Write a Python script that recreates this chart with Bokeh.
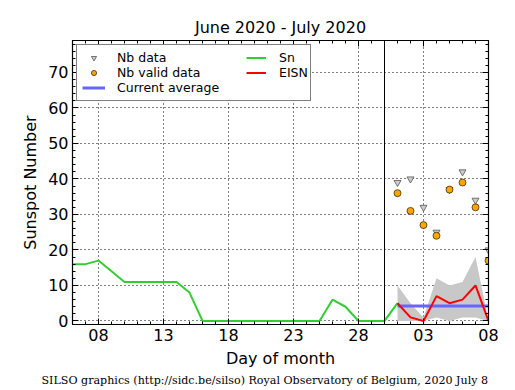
from bokeh.plotting import figure
from bokeh.models import (Range1d, FixedTicker, LinearAxis, Span, Legend,
                          LegendItem, Title)
from bokeh.embed import file_html
from bokeh.resources import INLINE

# ---- data (day numbers: June = 1..30, July 1 = 31) ----
sn_days = [6, 7, 8, 9, 10, 11, 12, 13, 14, 15, 16, 17, 18, 19, 20, 21, 22,
           23, 24, 25, 26, 27, 28, 29, 30, 31]
sn_vals = [16, 16, 17, 14, 11, 11, 11, 11, 11, 8, 0, 0, 0, 0, 0, 0, 0,
           0, 0, 0, 6, 4, 0, 0, 0, 5]

eisn_days = [31, 32, 33, 34, 35, 36, 37, 38]
eisn_vals = [5, 1, 0, 7, 5, 6, 10, 0]
eisn_low = [0, 0, 0, 1, 0, 1, 1, 0]
eisn_high = [10, 5, 1, 12, 10, 11, 18, 0]

nb_data = [39, 40, 32, 25, 37, 42, 34, 20]
nb_valid = [36, 31, 27, 24, 37, 39, 32, 17]

current_average = 4.2
month_boundary = 30

x_tick_pos = [8, 13, 18, 23, 28, 33, 38]
x_tick_labels = ["08", "13", "18", "23", "28", "03", "08"]
y_tick_pos = [0, 10, 20, 30, 40, 50, 60, 70]

FONT = "DejaVu Sans"

p = figure(frame_width=416, frame_height=284,
           x_range=Range1d(6, 38), y_range=Range1d(-1, 79),
           output_backend="svg", toolbar_location=None,
           min_border_left=72, min_border_right=27,
           min_border_top=40, min_border_bottom=66,
           background_fill_color="white", border_fill_color="white")

p.outline_line_color = "black"
p.outline_line_width = 1.2

xticker = FixedTicker(ticks=x_tick_pos, minor_ticks=list(range(6, 39)))
yticker = FixedTicker(ticks=y_tick_pos, minor_ticks=list(range(0, 80, 2)))


def style_axis(ax, labels=True):
    ax.axis_line_color = "black"
    ax.major_tick_in = 6
    ax.major_tick_out = 0
    ax.minor_tick_in = 3
    ax.minor_tick_out = 0
    ax.major_tick_line_color = "black"
    ax.minor_tick_line_color = "black"
    ax.major_label_text_font = FONT
    if labels:
        ax.major_label_text_font_size = "16px"
        ax.major_label_text_color = "black"
        ax.major_label_standoff = 4
    else:
        ax.major_label_text_font_size = "1px"
        ax.major_label_text_color = None
        ax.major_label_standoff = 0
    ax.axis_label_text_font = FONT
    ax.axis_label_text_font_size = "16px"
    ax.axis_label_text_font_style = "normal"
    ax.axis_label_text_color = "black"


p.xaxis.ticker = xticker
p.yaxis.ticker = yticker
p.xaxis.major_label_overrides = {pos: lab for pos, lab in zip(x_tick_pos, x_tick_labels)}
p.xaxis.axis_label = "Day of month"
p.yaxis.axis_label = "Sunspot Number"
style_axis(p.xaxis[0])
style_axis(p.yaxis[0])

top_ax = LinearAxis(ticker=xticker)
right_ax = LinearAxis(ticker=yticker)
style_axis(top_ax, labels=False)
style_axis(right_ax, labels=False)
p.add_layout(top_ax, "above")
p.add_layout(right_ax, "right")

p.xgrid.ticker = FixedTicker(ticks=x_tick_pos)
p.ygrid.ticker = FixedTicker(ticks=y_tick_pos)
for g in (p.xgrid[0], p.ygrid[0]):
    g.grid_line_color = "black"
    g.grid_line_dash = "1 3"
    g.grid_line_width = 1

# title
p.title.text = "June 2020 - July 2020"
p.title.align = "center"
p.title.standoff = 8
p.title.text_font = FONT
p.title.text_font_size = "16px"
p.title.text_font_style = "normal"
p.title.text_color = "black"

# glyphs
p.varea(x=eisn_days, y1=eisn_low, y2=eisn_high, fill_color="#c8c8c8")
r_avg = p.line([eisn_days[0], eisn_days[-1]], [current_average, current_average],
               line_color="#6666ff", line_width=3)
r_sn = p.line(sn_days, sn_vals, line_color="#33cc33", line_width=2)
r_eisn = p.line(eisn_days, eisn_vals, line_color="red", line_width=2)
p.add_layout(Span(location=month_boundary, dimension="height",
                  line_color="black", line_width=1))
r_nb = p.scatter(eisn_days, nb_data, marker="inverted_triangle", size=7,
                 fill_color="#cccccc", line_color="#555555", line_width=0.8)
r_valid = p.scatter(eisn_days, nb_valid, marker="circle", size=7,
                    fill_color="orange", line_color="black", line_width=0.6)

common = dict(padding=5, spacing=0, label_height=13, glyph_height=13,
              label_text_font=FONT, label_text_font_size="12.5px",
              label_text_color="black")

leg1 = Legend(items=[LegendItem(label="Nb data", renderers=[r_nb]),
                     LegendItem(label="Nb valid data", renderers=[r_valid]),
                     LegendItem(label="Current average", renderers=[r_avg])],
              location="top_left", margin=4, label_width=188,
              glyph_width=23, label_standoff=12,
              border_line_color="black", border_line_width=1.2,
              background_fill_color="white", background_fill_alpha=1,
              **common)
leg2 = Legend(items=[LegendItem(label="Sn", renderers=[r_sn]),
                     LegendItem(label="EISN", renderers=[r_eisn])],
              location=(174, 244), glyph_width=20, label_standoff=13,
              border_line_color=None, background_fill_alpha=0, **common)
p.add_layout(leg1)
p.add_layout(leg2)

footer = Title(text="SILSO graphics (http://sidc.be/silso) Royal Observatory of Belgium, 2020 July 8",
               align="left", offset=-31, standoff=3,
               text_font="DejaVu Serif", text_font_size="11.1px",
               text_font_style="normal", text_color="black")
p.add_layout(footer, "below")

open("out.html", "w").write(file_html(p, INLINE))
